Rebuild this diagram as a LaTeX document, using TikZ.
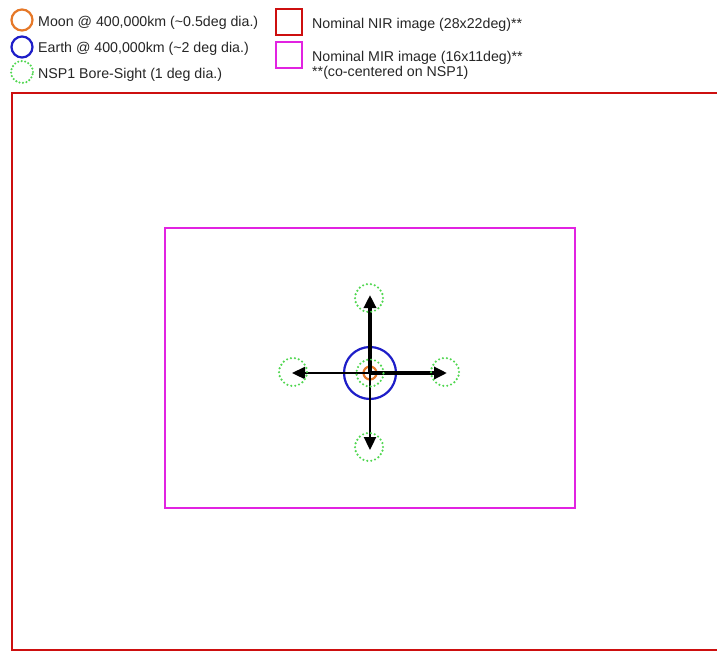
\documentclass[tikz,border=0pt]{standalone}
\usepackage{fontspec}
\setmainfont{Liberation Sans}
\usetikzlibrary{arrows.meta}
\definecolor{nirred}{RGB}{205,15,15}
\definecolor{mirmag}{RGB}{225,35,225}
\definecolor{earthblue}{RGB}{30,30,200}
\definecolor{moonorange}{RGB}{230,120,40}
\definecolor{bsgreen}{RGB}{80,215,80}
\begin{document}
\begin{tikzpicture}[x=1pt,y=-1pt,
 lbl/.style={anchor=base west,inner sep=0,font=\fontsize{14.2}{16}\selectfont,text=black!85},
 moon/.style={circle,draw=moonorange,line width=2.2pt,inner sep=0},
 earth/.style={circle,draw=earthblue,line width=2.2pt,inner sep=0},
 bore/.style={circle,draw=bsgreen,line width=2.4pt,dash pattern=on 0pt off 4pt,line cap=round,inner sep=0,minimum size=28pt},
 nir/.style={draw=nirred,line width=2.3pt},
 mir/.style={draw=mirmag,line width=2.3pt},
 legsq/.style={inner sep=0,minimum size=26pt},
 thickarr/.style={line width=4.5pt,-{Triangle[length=13pt,width=12pt]}},
 thinarr/.style={line width=2.3pt,-{Triangle[length=13pt,width=12pt]}},
]
\useasboundingbox (0,0) rectangle (717,651);
\clip (0,0) rectangle (717,651);
\fill[white] (0,0) rectangle (717,651);

% legend
\node[moon,minimum size=21pt] (legmoon) at (22,20) {};
\node[earth,minimum size=21pt] (legearth) at (22,47) {};
\node[bore,minimum size=22pt,dash pattern=on 0pt off 3.5pt] (legbore) at (22,72) {};
\node[lbl] (tmoon) at (38,26) {Moon @ 400,000km (\textasciitilde0.5deg dia.)};
\node[lbl] (tearth) at (38,52) {Earth @ 400,000km (\textasciitilde2 deg dia.)};
\node[lbl] (tbore) at (38,78) {NSP1 Bore-Sight (1 deg dia.)};

\node[nir,legsq] (legnir) at (289,22) {};
\node[mir,legsq] (legmir) at (289,55) {};
\node[lbl] (tnir) at (312,28) {Nominal NIR image (28x22deg)**};
\node[lbl] (tmir) at (312,61) {Nominal MIR image (16x11deg)**};
\node[lbl] (tco) at (312,76.5) {**(co-centered on NSP1)};

% image frames
\draw[nir] (12,93) rectangle (740,650);
\node[mir,inner sep=0,minimum width=410pt,minimum height=280pt] (mirbox) at (370,368) {};

% centre
\coordinate (c) at (370,373);
\node[earth,minimum size=52pt] (earth) at (c) {};
\node[moon,minimum size=13pt] (moon) at (c) {};

\coordinate (tipU) at (370,295);
\coordinate (tipD) at (370,450);
\coordinate (tipL) at (292,373);
\coordinate (tipR) at (447,373);
\draw[thickarr] (c) -- (tipU);
\draw[thickarr] (c) -- (tipR);
\draw[thinarr] (c) -- (tipL);
\draw[thinarr] (c) -- (tipD);

\node[bore,minimum size=27pt] (bc) at (c) {};
\node[bore] (bu) at (369,298) {};
\node[bore] (bd) at (369,447) {};
\node[bore] (bl) at (293,372) {};
\node[bore] (br) at (445,372) {};
\end{tikzpicture}
\end{document}
